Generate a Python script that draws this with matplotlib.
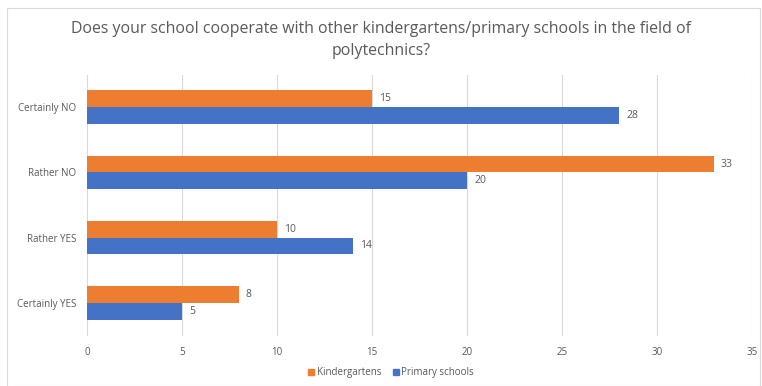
import matplotlib
matplotlib.use("Agg")
import matplotlib.pyplot as plt
import numpy as np
from matplotlib.patches import Rectangle, Patch

categories = ["Certainly NO", "Rather NO", "Rather YES", "Certainly YES"]
kindergartens = [15, 33, 10, 8]
primary = [28, 20, 14, 5]

C_ORANGE = "#ED7D31"
C_BLUE = "#4472C4"
C_TEXT = "#595959"
C_GRID = "#D9D9D9"

plt.rcParams["font.family"] = ["Open Sans", "DejaVu Sans"]

fig = plt.figure(figsize=(7.62, 3.86), dpi=100)
fig.patches.append(Rectangle((7 / 762, 0), 753 / 762, 378 / 386, transform=fig.transFigure,
                             facecolor="none", edgecolor="#D9D9D9", lw=0.8))
ax = fig.add_axes([87 / 762, 1 - 335.5 / 386, 665 / 762, 261 / 386])
ax.set_facecolor("none")

y = np.arange(len(categories))
h = 0.255
bk = ax.barh(y - h / 2, kindergartens, height=h, color=C_ORANGE, label="Kindergartens", zorder=3)
bp = ax.barh(y + h / 2, primary, height=h, color=C_BLUE, label="Primary schools", zorder=3)
for bars in (bk, bp):
    ax.bar_label(bars, padding=5, fontsize=7.5, color=C_TEXT)

ax.set_ylim(len(categories) - 0.5, -0.5)
ax.set_xlim(0, 35)
ax.set_xticks(np.arange(0, 36, 5))
ax.set_yticks(y)
ax.set_yticklabels(categories)
ax.tick_params(axis="both", length=0, labelsize=7, labelcolor=C_TEXT)
ax.tick_params(axis="x", pad=8)
ax.tick_params(axis="y", pad=8)
ax.grid(axis="x", color=C_GRID, lw=0.8, zorder=0)
for s in ax.spines.values():
    s.set_visible(False)

fig.text(0.5, 1 - 40 / 386, "Does your school cooperate with other kindergartens/primary schools in the field of\npolytechnics?",
         ha="center", va="center", fontsize=11.4, color=C_TEXT, linespacing=1.5)

fig.legend(handles=[Patch(color=C_ORANGE, label="Kindergartens"), Patch(color=C_BLUE, label="Primary schools")],
           loc="center", bbox_to_anchor=(391 / 762, 1 - 373 / 386), ncol=2, frameon=False,
           fontsize=7, labelcolor=C_TEXT, handlelength=0.6, handleheight=0.6, handletextpad=0.3,
           columnspacing=1.2)

fig.savefig("out.png", dpi=100)
